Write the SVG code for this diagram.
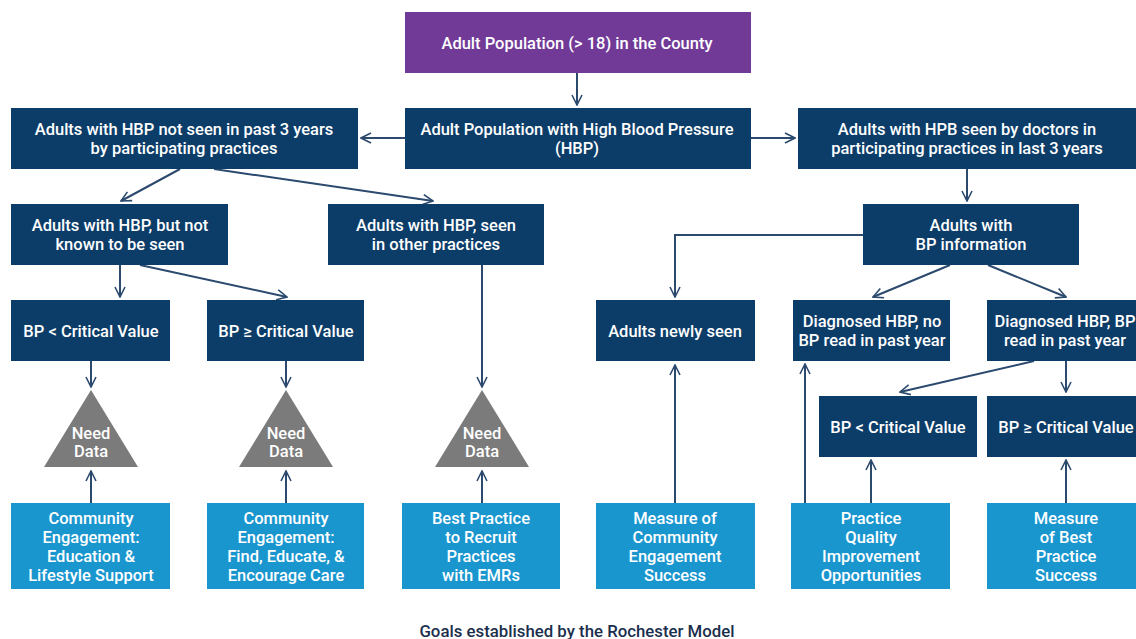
<svg xmlns="http://www.w3.org/2000/svg" width="1136" height="639" viewBox="0 0 1136 639">
<defs>
<marker id="ah" viewBox="0 0 12 12" refX="11" refY="6" markerWidth="12" markerHeight="12" markerUnits="userSpaceOnUse" orient="auto">
<path d="M1,1 L11,6 L1,11" fill="none" stroke="#2b4a6e" stroke-width="1.6"/>
</marker>
<style>
.n{fill:#0c3d69}
.p{fill:#713a97}
.l{fill:#1a96cf}
.t{fill:#7b7b7b}
text{font-family:Roboto,"Liberation Sans",sans-serif;font-size:16.5px;font-weight:500;fill:#ffffff;text-anchor:middle}
.cap{fill:#1b2f4d;font-size:16.8px}
.c path{fill:none;stroke:#2b4a6e;stroke-width:2;marker-end:url(#ah)}
</style>
</defs>
<rect width="1136" height="639" fill="#ffffff"/>

<g class="c" id="connectors">
<path d="M577,73 V105"/>
<path d="M405,138 H361"/>
<path d="M751,138 H795"/>
<path d="M180,169 L121,201"/>
<path d="M214,169 L433,201"/>
<path d="M967,169 V201"/>
<path d="M863,235 H675 V297"/>
<path d="M950,265 L873,297"/>
<path d="M988,265 L1066,297"/>
<path d="M120,265 V297"/>
<path d="M140,265 L287,297"/>
<path d="M482,265 V387"/>
<path d="M91,361 V387"/>
<path d="M286,361 V387"/>
<path d="M91,503 V471"/>
<path d="M286,503 V471"/>
<path d="M482,503 V471"/>
<path d="M675,503 V365"/>
<path d="M805,503 V364"/>
<path d="M871,503 V460"/>
<path d="M1034,361 L900,392"/>
<path d="M1066,361 V392"/>
<path d="M1066,503 V460"/>
</g>

<g id="n-county"><rect class="p" x="405" y="12" width="346" height="61"/><text x="577" y="49">Adult Population (&gt; 18) in the County</text></g>
<g id="n-hbp"><rect class="n" x="405" y="108" width="346" height="61"/><text x="577" y="135">Adult Population with High Blood Pressure</text><text x="577" y="154">(HBP)</text></g>
<g id="n-notseen"><rect class="n" x="11" y="108" width="347" height="61"/><text x="184" y="135">Adults with HBP not seen in past 3 years</text><text x="184" y="154">by participating practices</text></g>
<g id="n-seen"><rect class="n" x="798" y="108" width="346" height="61"/><text x="967" y="135">Adults with HPB seen by doctors in</text><text x="967" y="154">participating practices in last 3 years</text></g>
<g id="n-notknown"><rect class="n" x="11" y="204" width="217" height="61"/><text x="120" y="231">Adults with HBP, but not</text><text x="120" y="250">known to be seen</text></g>
<g id="n-other"><rect class="n" x="328" y="204" width="216" height="61"/><text x="436" y="231">Adults with HBP, seen</text><text x="436" y="250">in other practices</text></g>
<g id="n-bpinfo"><rect class="n" x="863" y="204" width="216" height="61"/><text x="971" y="231">Adults with</text><text x="971" y="250">BP information</text></g>

<g id="n-lt1"><rect class="n" x="11" y="300" width="159" height="61"/><text x="91" y="337">BP &lt; Critical Value</text></g>
<g id="n-ge1"><rect class="n" x="207" y="300" width="157" height="61"/><text x="286" y="337">BP ≥ Critical Value</text></g>
<g id="n-newly"><rect class="n" x="596" y="300" width="159" height="61"/><text x="675" y="337">Adults newly seen</text></g>
<g id="n-nobp"><rect class="n" x="793" y="300" width="157" height="61"/><text x="872" y="327">Diagnosed HBP, no</text><text x="872" y="346">BP read in past year</text></g>
<g id="n-bpread"><rect class="n" x="987" y="300" width="159" height="61"/><text x="1065" y="327">Diagnosed HBP, BP</text><text x="1065" y="346">read in past year</text></g>
<g id="n-lt2"><rect class="n" x="819" y="396" width="158" height="61"/><text x="898" y="433">BP &lt; Critical Value</text></g>
<g id="n-ge2"><rect class="n" x="987" y="396" width="159" height="61"/><text x="1066" y="433">BP ≥ Critical Value</text></g>

<g id="n-need1"><path class="t" d="M91,390 L138,467 L44,467 Z"/><text x="91" y="439">Need</text><text x="91" y="457">Data</text></g>
<g id="n-need2"><path class="t" d="M286,390 L333,467 L239,467 Z"/><text x="286" y="439">Need</text><text x="286" y="457">Data</text></g>
<g id="n-need3"><path class="t" d="M482,390 L529,467 L435,467 Z"/><text x="482" y="439">Need</text><text x="482" y="457">Data</text></g>

<g id="n-g1"><rect class="l" x="11" y="503" width="159" height="86"/><text x="91" y="524">Community</text><text x="91" y="543">Engagement:</text><text x="91" y="562">Education &amp;</text><text x="91" y="581">Lifestyle Support</text></g>
<g id="n-g2"><rect class="l" x="207" y="503" width="157" height="86"/><text x="286" y="524">Community</text><text x="286" y="543">Engagement:</text><text x="286" y="562">Find, Educate, &amp;</text><text x="286" y="581">Encourage Care</text></g>
<g id="n-g3"><rect class="l" x="402" y="503" width="158" height="86"/><text x="481" y="524">Best Practice</text><text x="481" y="543">to Recruit</text><text x="481" y="562">Practices</text><text x="481" y="581">with EMRs</text></g>
<g id="n-g4"><rect class="l" x="596" y="503" width="159" height="86"/><text x="675" y="524">Measure of</text><text x="675" y="543">Community</text><text x="675" y="562">Engagement</text><text x="675" y="581">Success</text></g>
<g id="n-g5"><rect class="l" x="791" y="503" width="159" height="86"/><text x="871" y="524">Practice</text><text x="871" y="543">Quality</text><text x="871" y="562">Improvement</text><text x="871" y="581">Opportunities</text></g>
<g id="n-g6"><rect class="l" x="987" y="503" width="159" height="86"/><text x="1066" y="524">Measure</text><text x="1066" y="543">of Best</text><text x="1066" y="562">Practice</text><text x="1066" y="581">Success</text></g>

<text class="cap" x="577" y="637">Goals established by the Rochester Model</text>
</svg>
